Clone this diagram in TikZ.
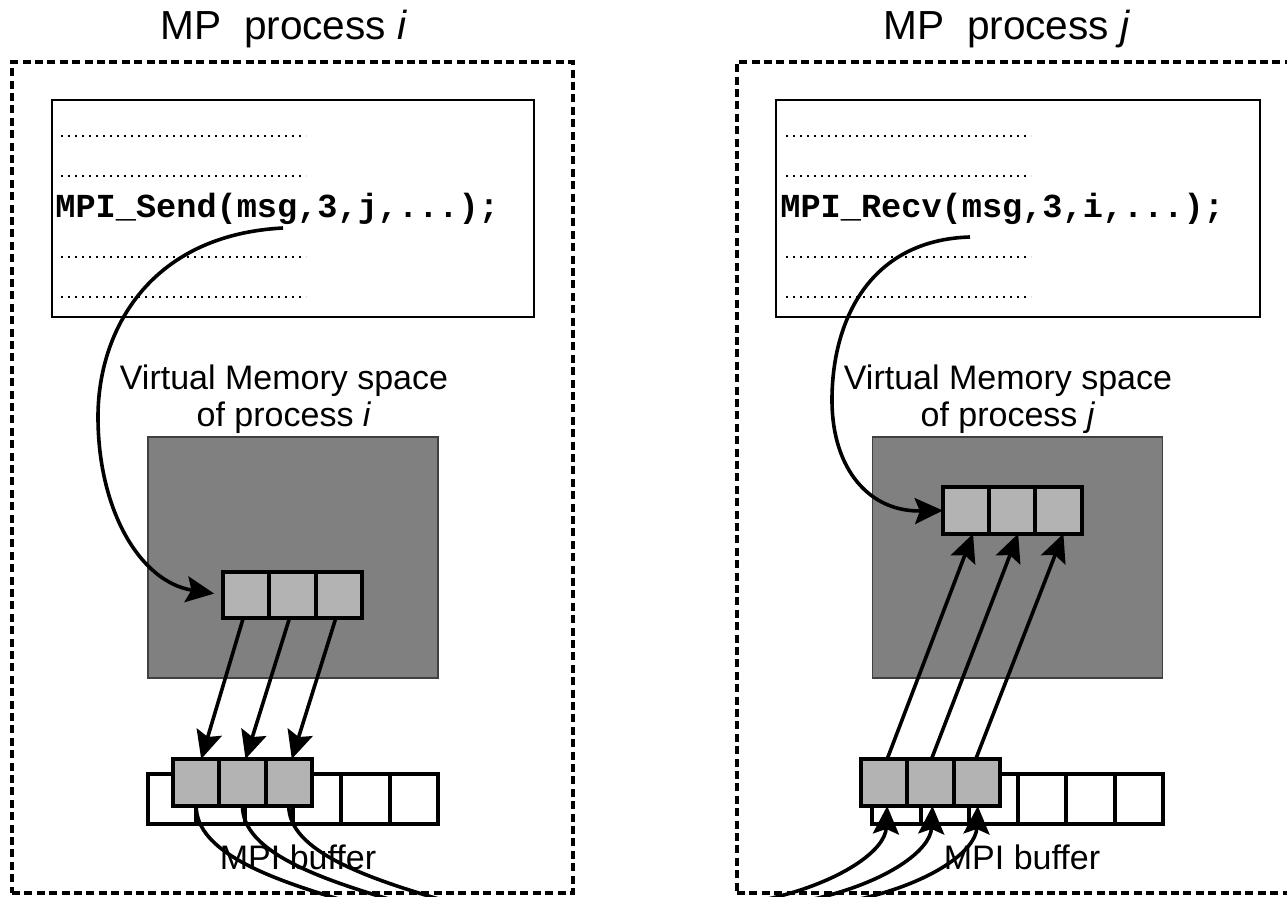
\documentclass[tikz,border=0pt]{standalone}
\usepackage{fontspec}
\setmainfont{Liberation Sans}
\newfontfamily\codefont{Liberation Mono}
\usetikzlibrary{arrows.meta}
\definecolor{boxgray}{HTML}{808080}
\definecolor{cellgray}{HTML}{B3B3B3}
\begin{document}
\begin{tikzpicture}[x=0.5pt,y=-0.5pt,
  procbox/.style={draw, line width=1.8pt, dash pattern=on 4pt off 2.2pt, rectangle, inner sep=0pt},
  codebox/.style={draw, line width=1pt, fill=white, rectangle, inner sep=0pt, minimum height=108.5pt},
  memblock/.style={draw=black!75, line width=0.8pt, fill=boxgray, rectangle, inner sep=0pt, minimum width=145pt, minimum height=120.5pt},
  cell/.style={draw, line width=2pt, fill=cellgray, minimum width=23.15pt, minimum height=23.2pt, inner sep=0pt, outer sep=0pt},
  bufcell/.style={draw, line width=2pt, fill=white, minimum width=24.2pt, minimum height=25pt, inner sep=0pt, outer sep=0pt},
  dotline/.style={line width=1.3pt, dash pattern=on 1.1pt off 2.4pt},
  arr/.style={line width=1.8pt, -{Stealth[length=14pt,width=13pt,inset=2.5pt]}},
  curv/.style={line width=1.8pt},
  title/.style={anchor=base, inner sep=0pt, font=\fontsize{20.3}{24}\selectfont},
  label/.style={anchor=base, inner sep=0pt, font=\fontsize{17}{20}\selectfont},
  code/.style={anchor=base west, inner sep=0pt, font=\codefont\bfseries\fontsize{16.8}{20}\selectfont}
]
\useasboundingbox (0,0) rectangle (1287,897);
\clip (0,0) rectangle (1287,897);

% process boxes
\node[procbox, minimum width=280.5pt, minimum height=415.5pt] (pi) at (292.5,477.5) {};
\node[procbox, minimum width=281.5pt, minimum height=415.5pt] (pj) at (1018.5,477.5) {};

% titles
\node[title] (ti) at (284,40) {MP\ \ process \textit{i}};
\node[title] (tj) at (1007,40) {MP\ \ process \textit{j}};

% code boxes
\node[codebox, minimum width=241pt] (ci) at (293,208.5) {};
\node[codebox, minimum width=242pt] (cj) at (1018,208.5) {};
\foreach \y in {136,176,257,297}{
  \draw[dotline] (61,\y) -- (306,\y);
  \draw[dotline] (786,\y) -- (1031,\y);
}
\node[code] (sendtxt) at (55,218) {MPI\_Send(msg,3,j,...);};
\node[code] (recvtxt) at (780,218) {MPI\_Recv(msg,3,i,...);};

% virtual memory labels
\node[label] (vmi1) at (284,390) {Virtual Memory space};
\node[label] (vmi2) at (284,427) {of process \textit{i}};
\node[label] (vmj1) at (1008,390) {Virtual Memory space};
\node[label] (vmj2) at (1008,427) {of process \textit{j}};

% memory blocks
\node[memblock] (mbi) at (293,557.5) {};
\node[memblock] (mbj) at (1017.5,557.5) {};

% memory cells
\node[cell] (mi1) at (246.2,595) {};
\node[cell] (mi2) at (292.5,595) {};
\node[cell] (mi3) at (338.8,595) {};
\node[cell] (mj1) at (966,510.5) {};
\node[cell] (mj2) at (1012.2,510.5) {};
\node[cell] (mj3) at (1058.4,510.5) {};

% MPI buffers (white cells)
\foreach \k in {0,...,5}{
  \node[bufcell] (wi\k) at (172.2+48.3*\k,799) {};
  \node[bufcell] (wj\k) at (896.3+48.5*\k,799) {};
}
% MPI buffers (gray cells)
\node[cell, minimum height=23.5pt] (bi1) at (196.2,782.5) {};
\node[cell, minimum height=23.5pt] (bi2) at (242.5,782.5) {};
\node[cell, minimum height=23.5pt] (bi3) at (288.8,782.5) {};
\node[cell, minimum height=23.5pt] (bj1) at (884.2,782.5) {};
\node[cell, minimum height=23.5pt] (bj2) at (930.5,782.5) {};
\node[cell, minimum height=23.5pt] (bj3) at (976.8,782.5) {};

\node[label] (bli) at (298,870) {MPI buffer};
\node[label] (blj) at (1022,870) {MPI buffer};

% main curved arrows
\coordinate (si) at (283,228);
\coordinate (sj) at (970,237);
\draw[arr, shorten >=4.5pt] (si) .. controls (150,235) and (98,330) .. (98,417)
   .. controls (98,510) and (140,582) .. (mi1.west);
\draw[arr] (sj) .. controls (870,240) and (832,320) .. (832,400)
   .. controls (832,470) and (870,512) .. (mj1.west);

% straight arrows, process i : memory -> buffer
\draw[arr] ([xshift=-1.5pt]mi1.south) -- ([xshift=2.5pt]bi1.north);
\draw[arr] ([xshift=-1.5pt]mi2.south) -- ([xshift=1.5pt]bi2.north);
\draw[arr] ([xshift=-1.5pt]mi3.south) -- ([xshift=1.5pt]bi3.north);

% straight arrows, process j : buffer -> memory
\draw[arr] ([xshift=1.5pt]bj1.north) -- ([xshift=3.5pt]mj1.south);
\draw[arr] ([xshift=0.5pt]bj2.north) -- ([xshift=3pt]mj2.south);
\draw[arr] ([xshift=-0.5pt]bj3.north) -- ([xshift=2.5pt]mj3.south);

% outgoing curves, process i
\coordinate (oi1) at (342,900);
\coordinate (oi2) at (392,900);
\coordinate (oi3) at (442,900);
\draw[curv] (bi1.south) .. controls +(0,45) and +(-75,-22) .. (oi1);
\draw[curv] (bi2.south) .. controls +(0,45) and +(-75,-22) .. (oi2);
\draw[curv] (bi3.south) .. controls +(0,45) and +(-75,-22) .. (oi3);

% incoming curves, process j
\coordinate (ij1) at (768,899);
\coordinate (ij2) at (814,899);
\coordinate (ij3) at (860,899);
\draw[arr] (ij1) .. controls +(74,-17) and +(-2,44) .. ([xshift=1.5pt]bj1.south);
\draw[arr] (ij2) .. controls +(74,-17) and +(-2,44) .. ([xshift=1pt]bj2.south);
\draw[arr] (ij3) .. controls +(74,-17) and +(-2,44) .. ([xshift=0.5pt]bj3.south);
\end{tikzpicture}
\end{document}
